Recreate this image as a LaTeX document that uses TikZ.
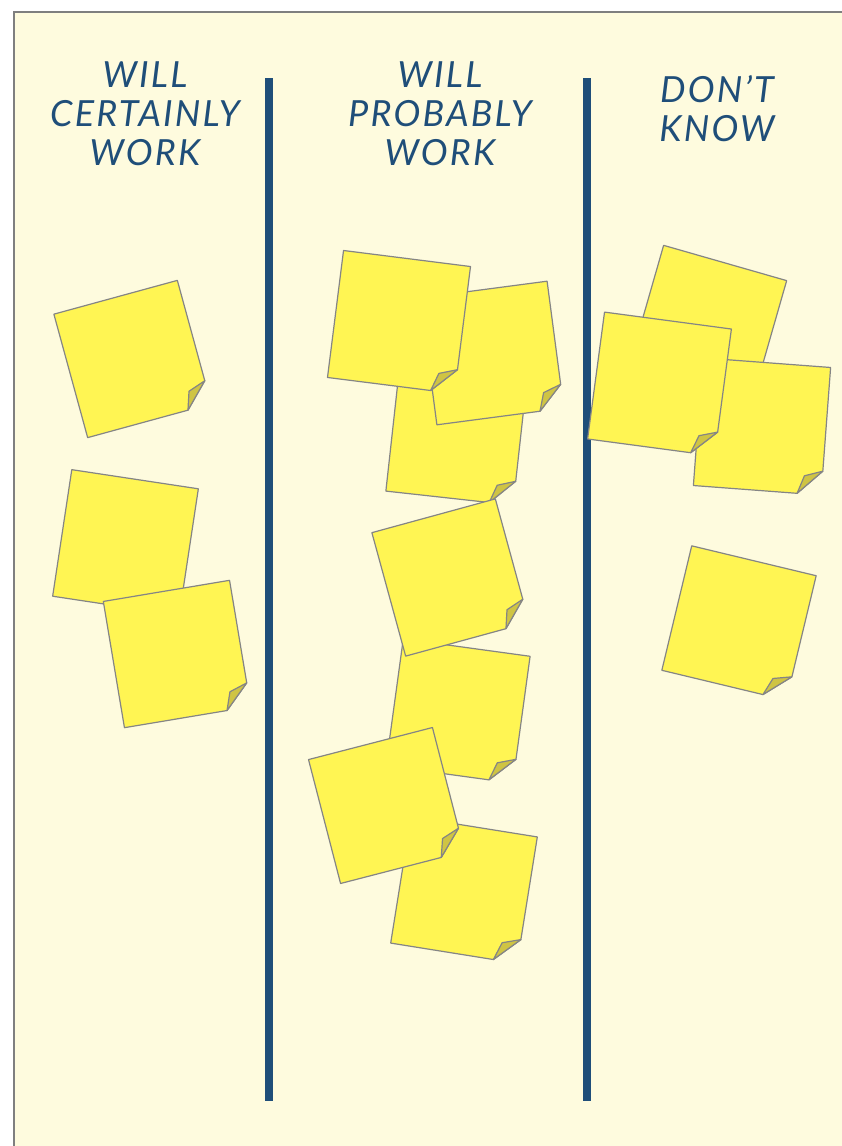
\documentclass[tikz,border=0pt]{standalone}
\usepackage{fontspec}
\setmainfont{Lato}
\usepackage{tikz}

\definecolor{board}{HTML}{FEFBDE}
\definecolor{boardedge}{HTML}{7F7F7F}
\definecolor{headblue}{HTML}{1F4E79}
\definecolor{noteyellow}{HTML}{FFF553}
\definecolor{notefoldcol}{HTML}{CFC443}
\definecolor{noteedge}{HTML}{858585}

% one sticky note: centre x, centre y, turn
\newcommand{\stickynote}[3]{%
  \begin{scope}[shift={(#1,#2)},rotate=#3]
    \draw [notesheet] (-64,-64) -- (64,-64) -- (64,40) -- (40,64) -- (-64,64) -- cycle;
    \draw [notefold] (64,40) -- (46,46) -- (40,64) -- cycle;
  \end{scope}}

\begin{document}
\begin{tikzpicture}[x=1pt,y=-1pt]
\tikzstyle{notesheet}=[fill=noteyellow, draw=noteedge, line width=1.2pt, line join=round]
\tikzstyle{notefold}=[fill=notefoldcol, draw=noteedge, line width=1.2pt, line join=round]
\tikzstyle{bar}=[draw=headblue, line width=8pt]
\tikzstyle{head}=[text=headblue, align=center, font=\fontsize{36}{39}\selectfont\itshape\addfontfeature{LetterSpace=6}]
\useasboundingbox (0,0) rectangle (842,1146);
\fill [board] (14,12) rectangle (842,1146);
\draw [boardedge, line width=1.2pt] (842,12) -- (14,12) -- (14,1146);
% headings
\node [head] (certain) at (145,114) {WILL\\CERTAINLY\\WORK};
\node [head] (probable) at (440,114) {WILL\\PROBABLY\\WORK};
\node [head] (unknown) at (717,109) {DON'T\\KNOW};
% column bars
\coordinate (bar1top) at (269,78);
\coordinate (bar1bot) at (269,1101);
\coordinate (bar2top) at (587,78);
\coordinate (bar2bot) at (587,1101);
\draw [bar] (bar1top) -- (bar1bot);
\draw [bar] (bar2top) -- (bar2bot);
% first column
\stickynote{132.5}{359}{15.3}
\stickynote{125.5}{542.5}{-8.6}
\stickynote{177}{654}{9.5}
% second column
\stickynote{456.5}{434.5}{-6.3}
\stickynote{492}{353}{7.5}
\stickynote{399}{322}{-7.2}
\stickynote{458}{711}{-7.8}
\stickynote{450.5}{577.5}{15.3}
\stickynote{464}{890}{-9.1}
\stickynote{386.5}{805.5}{14.5}
% third column
\stickynote{707.5}{324.5}{-16}
\stickynote{762}{426.5}{-4.3}
\stickynote{659.5}{384}{-7.6}
\stickynote{739}{623}{-13.5}
\end{tikzpicture}
\end{document}
